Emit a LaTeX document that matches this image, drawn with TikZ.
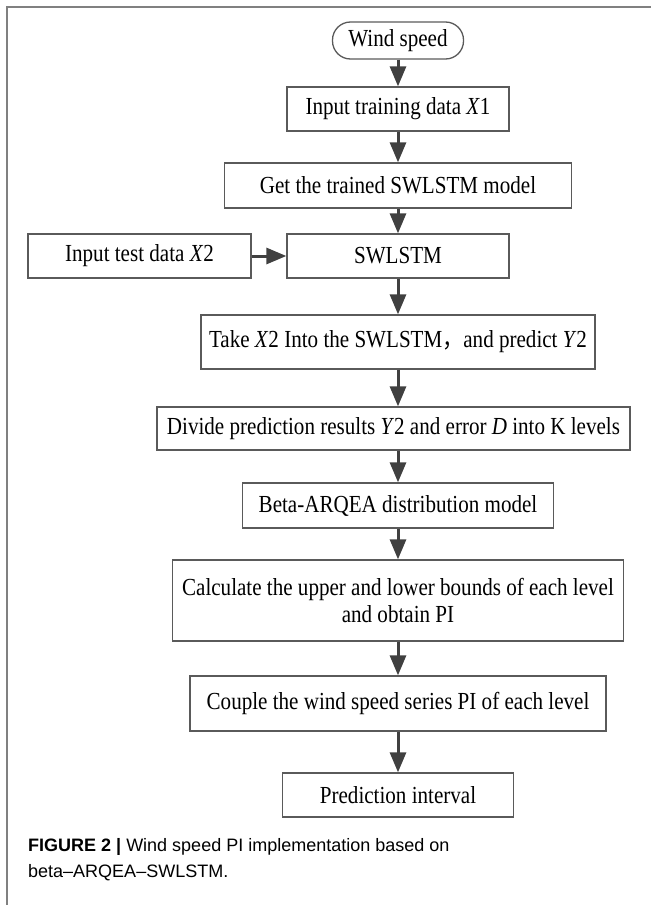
\documentclass[tikz,border=0pt]{standalone}
\usepackage{fontspec}
\setmainfont{Liberation Serif}
\newfontfamily\boxfont[FakeStretch=0.86]{Liberation Serif}
\newfontfamily\capfont{Liberation Sans}
\newfontfamily\cjk[FakeStretch=0.86]{Noto Sans CJK SC}
\usetikzlibrary{arrows.meta}
\definecolor{boxc}{HTML}{5A5A5A}
\definecolor{arrc}{HTML}{404040}
\definecolor{framec}{HTML}{808080}
\begin{document}
\begin{tikzpicture}[x=1pt,y=-1pt,
  stepbox/.style={draw=boxc, line width=1.3pt, inner sep=0pt, align=center,
    font=\boxfont\fontsize{24.5}{27}\selectfont},
  startbox/.style={stepbox, rounded corners=18pt},
  arr/.style={draw=arrc, line width=3pt, -{Triangle[length=20pt,width=16pt]}},
  captext/.style={anchor=west, inner sep=0pt, font=\capfont\fontsize{18}{18}\selectfont}]
\useasboundingbox (0,0) rectangle (651,905);
\draw[framec, line width=2pt] (7,905) -- (7,7) -- (651,7);
\node[startbox, minimum width=131pt, minimum height=37pt] (wind) at (398,40.5) {Wind speed};
\node[stepbox, minimum width=222pt, minimum height=44pt] (train) at (398,109) {Input training data \textit{X}1};
\node[stepbox, minimum width=347pt, minimum height=45pt] (get) at (398,185.5) {Get the trained SWLSTM model};
\node[stepbox, minimum width=223pt, minimum height=44pt] (test) at (139.5,256) {Input test data \textit{X}2};
\node[stepbox, minimum width=222pt, minimum height=44pt] (sw) at (398,256) {SWLSTM};
\node[stepbox, minimum width=394pt, minimum height=54pt] (take) at (398,342) {Take \textit{X}2 Into the SWLSTM{\cjk ，}and predict \textit{Y}2};
\node[stepbox, minimum width=473pt, minimum height=43pt] (div) at (393.5,428.5) {Divide prediction results \textit{Y}2 and error \textit{D} into K levels};
\node[stepbox, minimum width=311pt, minimum height=45pt] (beta) at (398,505.5) {Beta-ARQEA distribution model};
\node[stepbox, minimum width=451pt, minimum height=81pt] (calc) at (398,600.5) {Calculate the upper and lower bounds of each level\\and obtain PI};
\node[stepbox, minimum width=416pt, minimum height=55pt] (couple) at (398,703.5) {Couple the wind speed series PI of each level};
\node[stepbox, minimum width=231pt, minimum height=44pt] (pred) at (398,795) {Prediction interval};
\draw[arr] (wind.south) -- (train.north);
\draw[arr] (train.south) -- (get.north);
\draw[arr] (get.south) -- (sw.north);
\draw[arr] (test.east) -- (sw.west);
\draw[arr] (sw.south) -- (take.north);
\draw[arr] (take.south) -- (take.south |- div.north);
\draw[arr] (take.south |- div.south) -- (beta.north);
\draw[arr] (beta.south) -- (calc.north);
\draw[arr] (calc.south) -- (couple.north);
\draw[arr] (couple.south) -- (pred.north);
\node[captext] (cap1) at (28,847) {\textbf{FIGURE 2 |} Wind speed PI implementation based on};
\node[captext] (cap2) at (28,873) {beta–ARQEA–SWLSTM.};
\end{tikzpicture}
\end{document}
